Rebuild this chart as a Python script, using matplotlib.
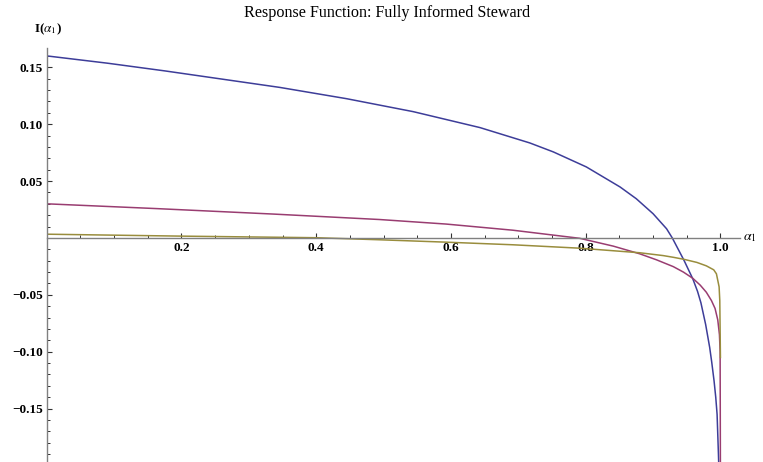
import matplotlib
matplotlib.use("Agg")
import matplotlib.pyplot as plt
from matplotlib.ticker import MultipleLocator, FixedLocator

# ---- data ----
blue_a = [0.0, 0.09, 0.1755, 0.346, 0.445, 0.544, 0.643, 0.717, 0.752, 0.801, 0.851,
          0.875, 0.900, 0.920, 0.9285, 0.946, 0.959, 0.966, 0.971, 0.978, 0.984, 0.987,
          0.9905, 0.993, 0.995, 0.997, 0.998]
blue_i = [0.160, 0.1536, 0.1468, 0.1323, 0.1224, 0.111, 0.097, 0.0835, 0.0756, 0.0624, 0.0448,
          0.0345, 0.0213, 0.0081, 0.0, -0.0198, -0.036, -0.047, -0.057, -0.076, -0.0962, -0.109,
          -0.1256, -0.140, -0.155, -0.190, -0.21]

mag_a = [0.0, 0.163, 0.336, 0.494, 0.593, 0.692, 0.791, 0.841, 0.880, 0.905, 0.930, 0.945,
         0.959, 0.970, 0.979, 0.9866, 0.992, 0.996, 0.9985, 0.9995, 0.99995]
mag_i = [0.030, 0.0258, 0.021, 0.0162, 0.0122, 0.0068, -0.0003, -0.0072, -0.0139, -0.0192,
         -0.0252, -0.0300, -0.0355, -0.0415, -0.0477, -0.055, -0.062, -0.072, -0.085, -0.10, -0.21]

oli_a = [0.0, 0.2, 0.4, 0.494, 0.593, 0.692, 0.791, 0.880, 0.915, 0.930, 0.946,
         0.965, 0.979, 0.990, 0.994, 0.998, 0.999, 0.99995]
oli_i = [0.0033, 0.0016, 0.0002, -0.0016, -0.0037, -0.006, -0.009, -0.013, -0.0155, -0.0170, -0.0188,
         -0.0215, -0.0245, -0.028, -0.0315, -0.043, -0.055, -0.105]

x_ticks = [0.2, 0.4, 0.6, 0.8, 1.0]
x_labels = ["0.2", "0.4", "0.6", "0.8", "1.0"]
y_ticks = [-0.15, -0.10, -0.05, 0.05, 0.10, 0.15]
y_labels = ["\u22120.15", "\u22120.10", "\u22120.05", "0.05", "0.10", "0.15"]

title = "Response Function: Fully Informed Steward"

# ---- figure ----
W, H = 763, 462
fig = plt.figure(figsize=(W / 100, H / 100), dpi=100)
ax_left, ax_right, ax_top, ax_bottom = 46.7, 740, 47.7, 462
ax = fig.add_axes([ax_left / W, 1 - ax_bottom / H, (ax_right - ax_left) / W, (ax_bottom - ax_top) / H])

serif = ["Liberation Serif", "DejaVu Serif"]

ax.plot(blue_a, blue_i, color="#3d3d99", lw=1.1, solid_joinstyle="round")
ax.plot(mag_a, mag_i, color="#993d71", lw=1.1, solid_joinstyle="round")
ax.plot(oli_a, oli_i, color="#998d3d", lw=1.1, solid_joinstyle="round")

ax.set_xlim(0, 1.029)
ax.set_ylim(-0.1969, 0.1672)

for s in ["top", "right"]:
    ax.spines[s].set_visible(False)
ax.spines["left"].set_position(("data", 0))
ax.spines["bottom"].set_position(("data", 0))
for s in ["left", "bottom"]:
    ax.spines[s].set_color("#808080")
    ax.spines[s].set_linewidth(1.0)

ax.xaxis.set_major_locator(FixedLocator(x_ticks))
ax.set_xticklabels(x_labels)
ax.xaxis.set_minor_locator(MultipleLocator(0.05))
ax.yaxis.set_major_locator(FixedLocator(y_ticks))
ax.set_yticklabels(y_labels)
ax.yaxis.set_minor_locator(MultipleLocator(0.01))

ax.tick_params(which="major", direction="in", length=3.6, width=0.8, color="#333333", pad=3,
               labelsize=9.5)
ax.tick_params(which="minor", direction="in", length=2.0, width=0.7, color="#333333")
for lab in ax.get_xticklabels() + ax.get_yticklabels():
    lab.set_fontfamily(serif)
    lab.set_fontweight("bold")

ax.patch.set_alpha(0)

fig.text(387 / W, 1 - 13 / H, title, ha="center", va="center", fontsize=11.6,
         family=serif)
plt.rcParams["mathtext.fontset"] = "stix"
fig.text(34 / W, 1 - 29 / H, r"I($\alpha_1$)", ha="left", va="center", fontsize=9.5,
         family=serif, fontweight="bold")
fig.text(743 / W, 1 - 238 / H, r"$\alpha_1$", ha="left", va="center", fontsize=10,
         family=serif)

fig.savefig("out.png", dpi=100)
